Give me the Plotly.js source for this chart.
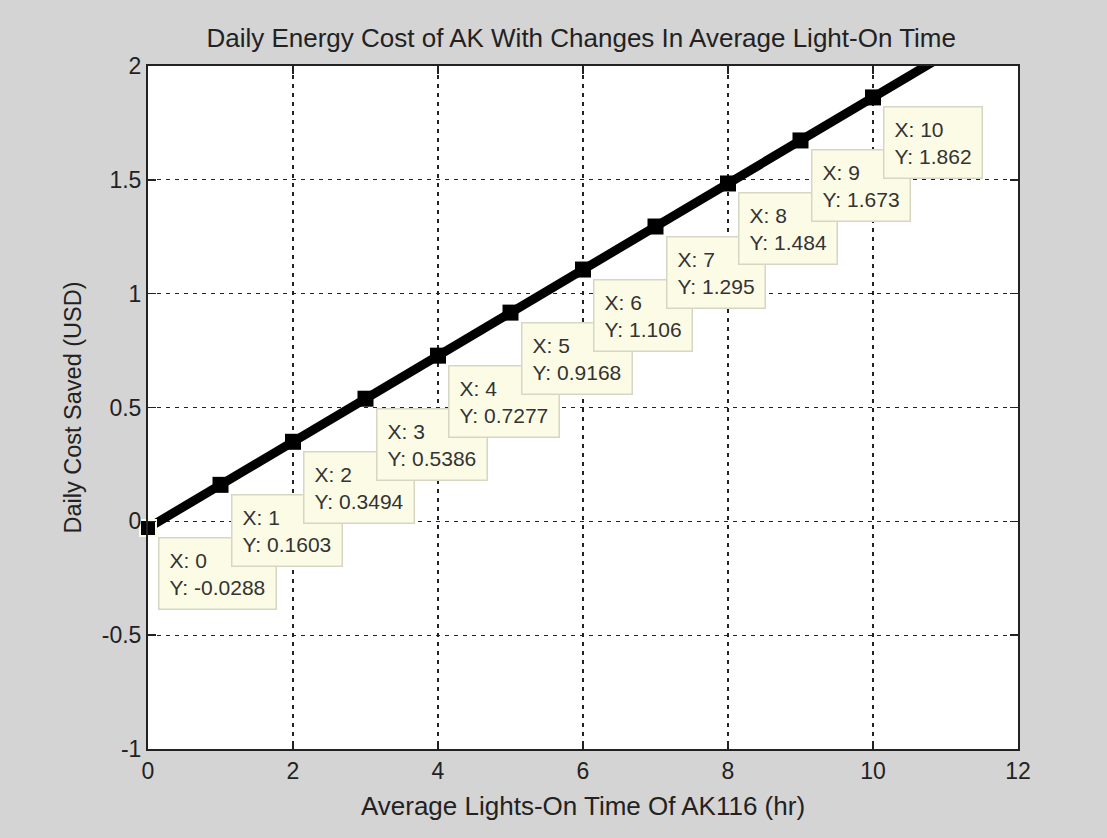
<!DOCTYPE html>
<html>
<head>
<meta charset="utf-8">
<script src="https://cdn.plot.ly/plotly-3.0.1.min.js"></script>
<style>html,body{margin:0;padding:0;background:#d4d4d4;}#chart{width:1107px;height:838px;}</style>
</head>
<body>
<div id="chart"></div>
<script>
// Data
const hours = [0, 1, 2, 3, 4, 5, 6, 7, 8, 9, 10, 11];
const costSaved = [-0.0288, 0.1603, 0.3494, 0.5386, 0.7277, 0.9168, 1.106, 1.295, 1.484, 1.673, 1.862, 2.051];
const tipX = [0, 1, 2, 3, 4, 5, 6, 7, 8, 9, 10];
const tipY = [-0.0288, 0.1603, 0.3494, 0.5386, 0.7277, 0.9168, 1.106, 1.295, 1.484, 1.673, 1.862];
const tipLabels = ["-0.0288", "0.1603", "0.3494", "0.5386", "0.7277", "0.9168", "1.106", "1.295", "1.484", "1.673", "1.862"];
const xTicks = [0, 2, 4, 6, 8, 10, 12];
const yTicks = [-1, -0.5, 0, 0.5, 1, 1.5, 2];

const FONT = "Liberation Sans, Arial, sans-serif";

const lineTrace = {
  x: hours, y: costSaved, type: "scatter", mode: "lines",
  line: {color: "#000000", width: 9},
  cliponaxis: true, hoverinfo: "skip"
};
const markerTrace = {
  x: tipX, y: tipY, type: "scatter", mode: "markers",
  marker: {symbol: "square", size: 16, color: "#000000",
    line: {color: "#fbfbe8", width: tipX.map((h, i) => i === 0 ? 2 : 0)}},
  cliponaxis: false, hoverinfo: "skip"
};

const annotations = tipX.map((xv, i) => ({
  x: xv, y: tipY[i], xref: "x", yref: "y",
  text: "X: " + xv + "<br>Y: " + tipLabels[i],
  showarrow: false, xanchor: "left", yanchor: "top", align: "left",
  xshift: 10, yshift: -9,
  bgcolor: "#fcfce6", bordercolor: "#d6d6c4", borderwidth: 1.5, borderpad: 10,
  font: {family: FONT, size: 21, color: "#333333"}
}));

const axisCommon = {
  showline: true, linecolor: "#222222", linewidth: 2, mirror: "allticks",
  ticks: "inside", ticklen: 8, tickcolor: "#222222", tickwidth: 1.5,
  showgrid: true, gridcolor: "#222222", gridwidth: 1.2, griddash: "4px,5px",
  zeroline: false, tickfont: {family: FONT, size: 23, color: "#222222"}
};

const layout = {
  width: 1107, height: 838,
  paper_bgcolor: "#d4d4d4", plot_bgcolor: "#ffffff",
  margin: {l: 148, r: 89, t: 66, b: 89},
  showlegend: false,
  title: {text: "Daily Energy Cost of AK With Changes In Average Light-On Time",
    font: {family: FONT, size: 26, color: "#222222"},
    x: 0.525, xanchor: "center", y: 0.955, yanchor: "middle", yref: "container"},
  xaxis: Object.assign({}, axisCommon, {
    range: [0, 12], tickvals: xTicks, ticktext: xTicks.map(String),
    title: {text: "Average Lights-On Time Of AK116 (hr)", font: {family: FONT, size: 26, color: "#222222"}, standoff: 14}
  }),
  yaxis: Object.assign({}, axisCommon, {
    range: [-1, 2], tickvals: yTicks, ticktext: yTicks.map(String),
    title: {text: "Daily Cost Saved (USD)", font: {family: FONT, size: 23.5, color: "#222222"}, standoff: 14}
  }),
  annotations: annotations
};

Plotly.newPlot("chart", [lineTrace, markerTrace], layout, {staticPlot: true, displayModeBar: false});
</script>
</body>
</html>
